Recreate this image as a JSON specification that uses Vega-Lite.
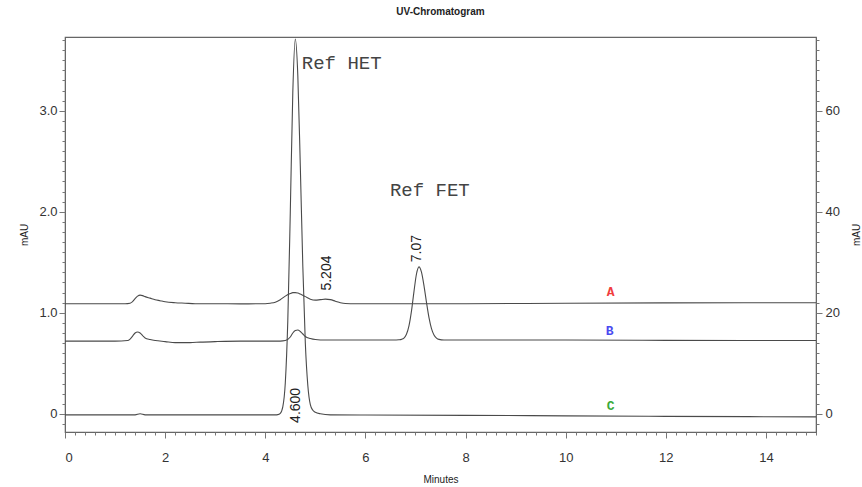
{
  "$schema": "https://vega.github.io/schema/vega-lite/v6.json",
  "width": 751,
  "height": 395,
  "autosize": "none",
  "padding": {"left": 65, "top": 37, "right": 46, "bottom": 55},
  "background": "white",
  "title": {"text": "UV-Chromatogram", "font": "Liberation Sans", "fontSize": 10, "fontWeight": "bold", "color": "#222", "offset": 19, "anchor": "middle"},
  "config": {
    "view": {"stroke": "#666", "strokeWidth": 1.2},
    "axis": {"grid": false, "labelFont": "Liberation Sans", "labelFontSize": 13, "labelColor": "#333", "tickColor": "#777", "domainColor": "#666", "titleFont": "Liberation Sans", "titleFontSize": 10, "titleFontWeight": "normal", "titleColor": "#222"}
  },
  "datasets": {
    "traces": [
      {"trace": "A", "t": 0, "v": 1.09}, {"trace": "A", "t": 0.5, "v": 1.09}, {"trace": "A", "t": 1.0, "v": 1.09}, {"trace": "A", "t": 1.2, "v": 1.09},
      {"trace": "A", "t": 1.3, "v": 1.095}, {"trace": "A", "t": 1.35, "v": 1.11}, {"trace": "A", "t": 1.4, "v": 1.14}, {"trace": "A", "t": 1.45, "v": 1.165},
      {"trace": "A", "t": 1.5, "v": 1.175}, {"trace": "A", "t": 1.55, "v": 1.17}, {"trace": "A", "t": 1.6, "v": 1.16}, {"trace": "A", "t": 1.7, "v": 1.145},
      {"trace": "A", "t": 1.8, "v": 1.13}, {"trace": "A", "t": 1.9, "v": 1.12}, {"trace": "A", "t": 2.0, "v": 1.11}, {"trace": "A", "t": 2.2, "v": 1.1},
      {"trace": "A", "t": 2.4, "v": 1.095}, {"trace": "A", "t": 2.6, "v": 1.09}, {"trace": "A", "t": 3.0, "v": 1.09}, {"trace": "A", "t": 3.5, "v": 1.088},
      {"trace": "A", "t": 4.0, "v": 1.09}, {"trace": "A", "t": 4.1, "v": 1.095}, {"trace": "A", "t": 4.2, "v": 1.105}, {"trace": "A", "t": 4.3, "v": 1.13},
      {"trace": "A", "t": 4.4, "v": 1.165}, {"trace": "A", "t": 4.5, "v": 1.19}, {"trace": "A", "t": 4.55, "v": 1.2}, {"trace": "A", "t": 4.6, "v": 1.2},
      {"trace": "A", "t": 4.65, "v": 1.195}, {"trace": "A", "t": 4.7, "v": 1.185}, {"trace": "A", "t": 4.8, "v": 1.16}, {"trace": "A", "t": 4.9, "v": 1.135},
      {"trace": "A", "t": 5.0, "v": 1.125}, {"trace": "A", "t": 5.1, "v": 1.13}, {"trace": "A", "t": 5.2, "v": 1.135}, {"trace": "A", "t": 5.3, "v": 1.13},
      {"trace": "A", "t": 5.4, "v": 1.115}, {"trace": "A", "t": 5.5, "v": 1.1}, {"trace": "A", "t": 5.6, "v": 1.092}, {"trace": "A", "t": 5.8, "v": 1.09},
      {"trace": "A", "t": 6.5, "v": 1.09}, {"trace": "A", "t": 8, "v": 1.09}, {"trace": "A", "t": 10, "v": 1.095}, {"trace": "A", "t": 12, "v": 1.098}, {"trace": "A", "t": 15, "v": 1.1},

      {"trace": "B", "t": 0, "v": 0.72}, {"trace": "B", "t": 1.0, "v": 0.72}, {"trace": "B", "t": 1.25, "v": 0.725}, {"trace": "B", "t": 1.3, "v": 0.74},
      {"trace": "B", "t": 1.35, "v": 0.77}, {"trace": "B", "t": 1.4, "v": 0.8}, {"trace": "B", "t": 1.45, "v": 0.81}, {"trace": "B", "t": 1.5, "v": 0.8},
      {"trace": "B", "t": 1.55, "v": 0.775}, {"trace": "B", "t": 1.6, "v": 0.75}, {"trace": "B", "t": 1.7, "v": 0.735}, {"trace": "B", "t": 1.8, "v": 0.725},
      {"trace": "B", "t": 2.0, "v": 0.715}, {"trace": "B", "t": 2.2, "v": 0.705}, {"trace": "B", "t": 2.5, "v": 0.705}, {"trace": "B", "t": 2.7, "v": 0.71},
      {"trace": "B", "t": 3.0, "v": 0.715}, {"trace": "B", "t": 3.5, "v": 0.72}, {"trace": "B", "t": 4.0, "v": 0.72}, {"trace": "B", "t": 4.3, "v": 0.72},
      {"trace": "B", "t": 4.4, "v": 0.725}, {"trace": "B", "t": 4.5, "v": 0.76}, {"trace": "B", "t": 4.55, "v": 0.8}, {"trace": "B", "t": 4.6, "v": 0.825},
      {"trace": "B", "t": 4.65, "v": 0.83}, {"trace": "B", "t": 4.7, "v": 0.815}, {"trace": "B", "t": 4.75, "v": 0.79}, {"trace": "B", "t": 4.8, "v": 0.765},
      {"trace": "B", "t": 4.9, "v": 0.745}, {"trace": "B", "t": 5.0, "v": 0.735}, {"trace": "B", "t": 5.2, "v": 0.73}, {"trace": "B", "t": 6.0, "v": 0.73},
      {"trace": "B", "t": 6.5, "v": 0.73}, {"trace": "B", "t": 6.6, "v": 0.731}, {"trace": "B", "t": 6.67, "v": 0.733}, {"trace": "B", "t": 6.72, "v": 0.737},
      {"trace": "B", "t": 6.77, "v": 0.75}, {"trace": "B", "t": 6.82, "v": 0.787}, {"trace": "B", "t": 6.87, "v": 0.87}, {"trace": "B", "t": 6.92, "v": 1.016},
      {"trace": "B", "t": 6.97, "v": 1.21}, {"trace": "B", "t": 7.02, "v": 1.384}, {"trace": "B", "t": 7.07, "v": 1.455}, {"trace": "B", "t": 7.12, "v": 1.403},
      {"trace": "B", "t": 7.17, "v": 1.269}, {"trace": "B", "t": 7.22, "v": 1.103}, {"trace": "B", "t": 7.27, "v": 0.952}, {"trace": "B", "t": 7.32, "v": 0.844},
      {"trace": "B", "t": 7.37, "v": 0.781}, {"trace": "B", "t": 7.42, "v": 0.75}, {"trace": "B", "t": 7.47, "v": 0.737}, {"trace": "B", "t": 7.57, "v": 0.731},
      {"trace": "B", "t": 8.0, "v": 0.73}, {"trace": "B", "t": 10, "v": 0.73}, {"trace": "B", "t": 12, "v": 0.727}, {"trace": "B", "t": 15, "v": 0.725},

      {"trace": "C", "t": 0, "v": -0.01}, {"trace": "C", "t": 1.0, "v": -0.01}, {"trace": "C", "t": 1.4, "v": -0.01}, {"trace": "C", "t": 1.5, "v": 0.0},
      {"trace": "C", "t": 1.6, "v": -0.01}, {"trace": "C", "t": 3.0, "v": -0.01}, {"trace": "C", "t": 4.0, "v": -0.01}, {"trace": "C", "t": 4.2, "v": -0.01},
      {"trace": "C", "t": 4.25, "v": -0.008}, {"trace": "C", "t": 4.3, "v": 0.004}, {"trace": "C", "t": 4.35, "v": 0.068}, {"trace": "C", "t": 4.4, "v": 0.305},
      {"trace": "C", "t": 4.45, "v": 0.92}, {"trace": "C", "t": 4.5, "v": 2.0}, {"trace": "C", "t": 4.55, "v": 3.18}, {"trace": "C", "t": 4.6, "v": 3.71},
      {"trace": "C", "t": 4.65, "v": 3.35}, {"trace": "C", "t": 4.7, "v": 2.45}, {"trace": "C", "t": 4.75, "v": 1.46}, {"trace": "C", "t": 4.8, "v": 0.7},
      {"trace": "C", "t": 4.85, "v": 0.28}, {"trace": "C", "t": 4.9, "v": 0.09}, {"trace": "C", "t": 4.95, "v": 0.035}, {"trace": "C", "t": 5.0, "v": 0.015},
      {"trace": "C", "t": 5.1, "v": 0.0}, {"trace": "C", "t": 5.3, "v": -0.01}, {"trace": "C", "t": 6, "v": -0.012}, {"trace": "C", "t": 8, "v": -0.015},
      {"trace": "C", "t": 10, "v": -0.02}, {"trace": "C", "t": 12, "v": -0.025}, {"trace": "C", "t": 15, "v": -0.03}
    ],
    "refs": [
      {"label": "Ref HET", "t": 4.73, "v": 3.47},
      {"label": "Ref FET", "t": 6.49, "v": 2.22}
    ],
    "times": [
      {"label": "5.204", "t": 5.23, "v": 1.22},
      {"label": "7.07", "t": 7.04, "v": 1.5},
      {"label": "4.600", "t": 4.61, "v": -0.09}
    ],
    "letters": [
      {"label": "A", "t": 10.9, "v": 1.21},
      {"label": "B", "t": 10.88, "v": 0.82},
      {"label": "C", "t": 10.9, "v": 0.08}
    ]
  },
  "layer": [
    {
      "data": {"name": "traces"},
      "mark": {"type": "line", "color": "#4a4a4a", "strokeWidth": 1.1, "interpolate": "monotone"},
      "encoding": {
        "x": {"field": "t", "type": "quantitative", "scale": {"domain": [0, 15], "nice": false, "zero": false},
              "axis": {"orient": "bottom", "title": "Minutes", "values": [0, 2, 4, 6, 8, 10, 12, 14], "tickSize": 6, "labelPadding": 13, "titlePadding": 10, "format": "d"}},
        "y": {"field": "v", "type": "quantitative", "scale": {"domain": [-0.18, 3.73], "nice": false, "zero": false},
              "axis": {"orient": "left", "title": "mAU", "values": [0, 1, 2, 3], "tickSize": 6, "labelPadding": 2, "titlePadding": 9, "labelExpr": "datum.value === 0 ? '0' : format(datum.value, '.1f')"}},
        "detail": {"field": "trace"}
      }
    },
    {
      "data": {"name": "traces"},
      "mark": {"type": "point", "opacity": 0},
      "encoding": {
        "x": {"field": "t", "type": "quantitative", "scale": {"domain": [0, 15], "nice": false, "zero": false},
              "axis": {"orient": "bottom", "title": null, "labels": false, "domain": false, "tickSize": 3,
                       "values": [0,0.2,0.4,0.6,0.8,1,1.2,1.4,1.6,1.8,2,2.2,2.4,2.6,2.8,3,3.2,3.4,3.6,3.8,4,4.2,4.4,4.6,4.8,5,5.2,5.4,5.6,5.8,6,6.2,6.4,6.6,6.8,7,7.2,7.4,7.6,7.8,8,8.2,8.4,8.6,8.8,9,9.2,9.4,9.6,9.8,10,10.2,10.4,10.6,10.8,11,11.2,11.4,11.6,11.8,12,12.2,12.4,12.6,12.8,13,13.2,13.4,13.6,13.8,14,14.2,14.4,14.6,14.8,15]}},
        "y": {"field": "v", "type": "quantitative", "scale": {"domain": [-0.18, 3.73], "nice": false, "zero": false},
              "axis": {"orient": "left", "title": null, "labels": false, "domain": false, "tickSize": 3,
                       "values": [-0.1,0,0.1,0.2,0.3,0.4,0.5,0.6,0.7,0.8,0.9,1,1.1,1.2,1.3,1.4,1.5,1.6,1.7,1.8,1.9,2,2.1,2.2,2.3,2.4,2.5,2.6,2.7,2.8,2.9,3,3.1,3.2,3.3,3.4,3.5,3.6,3.7]}}
      }
    },
    {
      "data": {"name": "traces"},
      "mark": {"type": "point", "opacity": 0},
      "encoding": {
        "x": {"field": "t", "type": "quantitative", "scale": {"domain": [0, 15], "nice": false, "zero": false}, "axis": null},
        "y": {"field": "v", "type": "quantitative", "scale": {"domain": [-3.6, 74.6], "nice": false, "zero": false},
              "axis": {"orient": "right", "title": "mAU", "titleAngle": 270, "values": [0, 20, 40, 60], "tickSize": 6, "labelPadding": 3, "titlePadding": 22, "format": "d"}}
      }
    },
    {
      "data": {"name": "traces"},
      "mark": {"type": "point", "opacity": 0},
      "encoding": {
        "x": {"field": "t", "type": "quantitative", "scale": {"domain": [0, 15], "nice": false, "zero": false}, "axis": null},
        "y": {"field": "v", "type": "quantitative", "scale": {"domain": [-3.6, 74.6], "nice": false, "zero": false},
              "axis": {"orient": "right", "title": null, "labels": false, "domain": false, "tickSize": 3,
                       "values": [-2,0,2,4,6,8,10,12,14,16,18,20,22,24,26,28,30,32,34,36,38,40,42,44,46,48,50,52,54,56,58,60,62,64,66,68,70,72,74]}}
      }
    },
    {
      "data": {"name": "refs"},
      "mark": {"type": "text", "font": "Liberation Mono", "fontSize": 19, "color": "#444", "align": "left", "baseline": "middle"},
      "encoding": {
        "x": {"field": "t", "type": "quantitative", "scale": {"domain": [0, 15], "nice": false, "zero": false}, "axis": null},
        "y": {"field": "v", "type": "quantitative", "scale": {"domain": [-0.18, 3.73], "nice": false, "zero": false}, "axis": null},
        "text": {"field": "label"}
      }
    },
    {
      "data": {"name": "times"},
      "mark": {"type": "text", "font": "Liberation Sans", "fontSize": 14, "color": "#222", "align": "left", "baseline": "middle", "angle": 270},
      "encoding": {
        "x": {"field": "t", "type": "quantitative", "scale": {"domain": [0, 15], "nice": false, "zero": false}, "axis": null},
        "y": {"field": "v", "type": "quantitative", "scale": {"domain": [-0.18, 3.73], "nice": false, "zero": false}, "axis": null},
        "text": {"field": "label"}
      }
    },
    {
      "data": {"name": "letters"},
      "mark": {"type": "text", "font": "Liberation Mono", "fontSize": 13, "fontWeight": "bold", "align": "center", "baseline": "middle"},
      "encoding": {
        "x": {"field": "t", "type": "quantitative", "scale": {"domain": [0, 15], "nice": false, "zero": false}, "axis": null},
        "y": {"field": "v", "type": "quantitative", "scale": {"domain": [-0.18, 3.73], "nice": false, "zero": false}, "axis": null},
        "text": {"field": "label"},
        "color": {"field": "label", "type": "nominal", "scale": {"domain": ["A", "B", "C"], "range": ["#f03c3c", "#4a4af0", "#3aaa3a"]}, "legend": null}
      }
    }
  ],
  "resolve": {"scale": {"x": "independent", "y": "independent"}, "axis": {"x": "independent", "y": "independent"}}
}
